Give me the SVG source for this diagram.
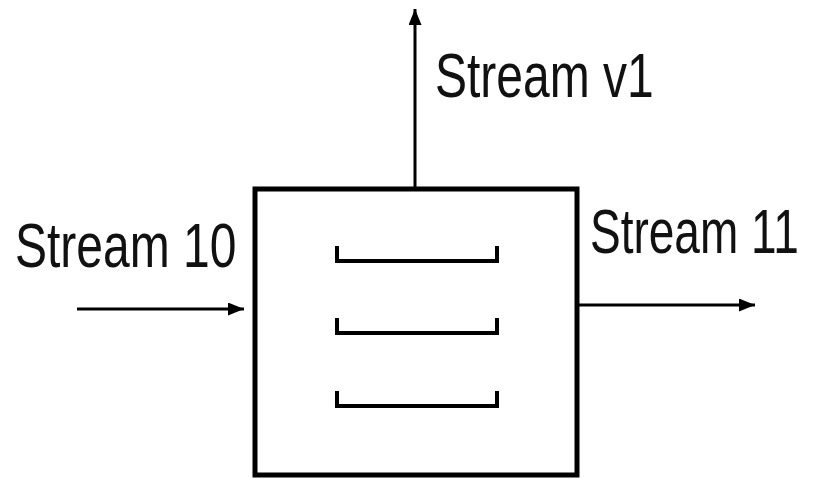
<svg xmlns="http://www.w3.org/2000/svg" width="818" height="479" viewBox="0 0 818 479">
<defs>
<marker id="ah" viewBox="0 0 10 10" refX="10" refY="5" markerWidth="16" markerHeight="13" markerUnits="userSpaceOnUse" orient="auto" preserveAspectRatio="none"><path d="M0,0 L10,5 L0,10 Z" fill="#000"/></marker>
<style>
.lbl{font-family:"Liberation Sans",Arial,sans-serif;font-size:48px;fill:#111}
.ln{stroke:#000;stroke-width:3;fill:none}
.tray{stroke:#000;stroke-width:4;fill:none;stroke-linecap:square}
</style>
</defs>
<rect width="818" height="479" fill="#fff"/>
<g id="column">
<rect x="255" y="189" width="322" height="286" fill="none" stroke="#000" stroke-width="5"/>
<path class="tray" d="M337,248 V261 H497 V248"/>
<path class="tray" d="M337,320 V333 H497 V320"/>
<path class="tray" d="M337,393 V406 H497 V393"/>
</g>
<g id="connectors">
<line class="ln" x1="415" y1="187" x2="415" y2="9" marker-end="url(#ah)"/>
<line class="ln" x1="77" y1="309" x2="244" y2="309" marker-end="url(#ah)"/>
<line class="ln" x1="578" y1="305" x2="755" y2="305" marker-end="url(#ah)"/>
</g>
<g id="labels">
<text class="lbl" transform="translate(435,97) scale(1,1.31)">Stream v1</text>
<text class="lbl" transform="translate(15,267) scale(1,1.31)">Stream 10</text>
<text class="lbl" transform="translate(590,253) scale(1,1.36)" style="font-size:46px">Stream 11</text>
</g>
</svg>
